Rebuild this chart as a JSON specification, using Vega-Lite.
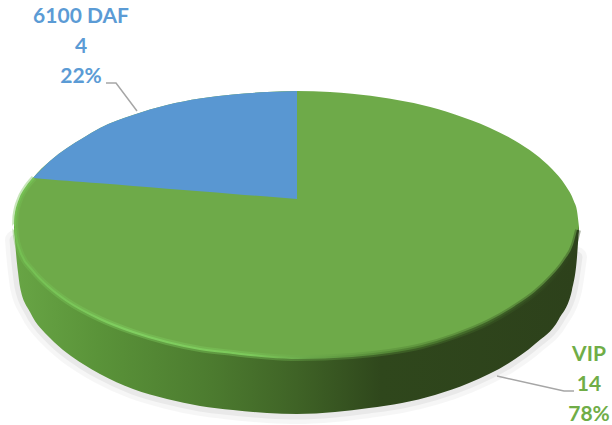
{
"$schema":"https://vega.github.io/schema/vega-lite/v6.json",
"width":612,"height":425,"padding":0,
"autosize":{"type":"none"},
"background":"#ffffff",
"view":{"stroke":null},
"datasets":{
"face":[
{"x":14,"top":227,"bottom":227},{"x":15,"top":216,"bottom":236},{"x":17,"top":207,"bottom":244},{"x":20,"top":199,"bottom":251},{"x":25,"top":189.5,"bottom":260},{"x":33,"top":178,"bottom":271},{"x":50,"top":161,"bottom":288},{"x":67,"top":148,"bottom":301},{"x":83,"top":138,"bottom":311},{"x":100,"top":128,"bottom":319},{"x":133,"top":115,"bottom":332},{"x":167,"top":105,"bottom":342},{"x":200,"top":98.5,"bottom":349},{"x":233,"top":94.5,"bottom":353},{"x":267,"top":92,"bottom":356.5},{"x":297,"top":91,"bottom":358},{"x":330,"top":92,"bottom":357.5},{"x":352,"top":93.7,"bottom":356},{"x":389,"top":98.5,"bottom":352},{"x":422,"top":105,"bottom":346},{"x":455,"top":114.4,"bottom":336},{"x":489,"top":127.4,"bottom":322},{"x":515,"top":140.7,"bottom":307},{"x":535,"top":154,"bottom":293},{"x":552,"top":169,"bottom":277},{"x":565,"top":184.7,"bottom":261},{"x":574,"top":201.6,"bottom":245},{"x":577,"top":211,"bottom":236},{"x":579,"top":227,"bottom":227}
],
"dafSlice":[
{"x":33,"top":178,"bottom":178},{"x":50,"top":161,"bottom":179.4},{"x":67,"top":148,"bottom":180.7},{"x":83,"top":138,"bottom":182},{"x":100,"top":128,"bottom":183.3},{"x":133,"top":115,"bottom":186},{"x":167,"top":105,"bottom":188.7},{"x":200,"top":98.5,"bottom":191.3},{"x":233,"top":94.5,"bottom":193.9},{"x":267,"top":92,"bottom":196.6},{"x":297,"top":91,"bottom":199}
],
"wall":[
{"x":14,"top":227,"bottom":227},{"x":15,"top":227,"bottom":240},{"x":16,"top":227,"bottom":253},{"x":18,"top":227,"bottom":272},{"x":20,"top":227,"bottom":287},{"x":30,"top":227,"bottom":312},{"x":50,"top":227,"bottom":338},{"x":67,"top":227,"bottom":353},{"x":83,"top":227,"bottom":364},{"x":100,"top":227,"bottom":374},{"x":133,"top":227,"bottom":389},{"x":167,"top":227,"bottom":399},{"x":200,"top":227,"bottom":406},{"x":233,"top":227,"bottom":410},{"x":267,"top":227,"bottom":413},{"x":297,"top":227,"bottom":414},{"x":335,"top":227,"bottom":412},{"x":369,"top":227,"bottom":408},{"x":402,"top":227,"bottom":403},{"x":435,"top":227,"bottom":395},{"x":469,"top":227,"bottom":383},{"x":509,"top":227,"bottom":363},{"x":535,"top":227,"bottom":344},{"x":559,"top":227,"bottom":319},{"x":572,"top":227,"bottom":290},{"x":577,"top":227,"bottom":257},{"x":579,"top":227,"bottom":227}
],
"rim":[
{"step":1,"x":34,"y":178},{"step":2,"x":25,"y":189.5},{"step":3,"x":20,"y":199},{"step":4,"x":15.5,"y":216},{"step":5,"x":15,"y":227},{"step":6,"x":16,"y":236},{"step":7,"x":20,"y":251},{"step":8,"x":33,"y":271},{"step":9,"x":50,"y":288},{"step":10,"x":67,"y":301},{"step":11,"x":100,"y":319},{"step":12,"x":133,"y":332},{"step":13,"x":167,"y":342},{"step":14,"x":200,"y":349},{"step":15,"x":233,"y":353},{"step":16,"x":267,"y":356.5},{"step":17,"x":297,"y":358},{"step":18,"x":352,"y":356},{"step":19,"x":389,"y":352},{"step":20,"x":422,"y":346},{"step":21,"x":455,"y":336},{"step":22,"x":489,"y":322},{"step":23,"x":515,"y":307},{"step":24,"x":535,"y":293},{"step":25,"x":552,"y":277},{"step":26,"x":565,"y":261},{"step":27,"x":574,"y":245},{"step":28,"x":578,"y":230}
],
"leaders":[
{"slice":"6100 DAF","step":1,"x":106,"y":83},{"slice":"6100 DAF","step":2,"x":116,"y":83},{"slice":"6100 DAF","step":3,"x":137,"y":111},
{"slice":"VIP","step":1,"x":574,"y":391},{"slice":"VIP","step":2,"x":564,"y":391},{"slice":"VIP","step":3,"x":497,"y":376}
],
"slices":[
{"slice":"6100 DAF","count":4,"percent":22,"labelX":81,"labelY":17},
{"slice":"VIP","count":14,"percent":78,"labelX":589,"labelY":355}
]
},
"layer":[
{"data":{"name":"wall"},
 "transform":[{"filter":"datum.x >= 15 && datum.x <= 577"}],
 "mark":{"type":"line","interpolate":"monotone","stroke":"#000000","strokeOpacity":0.035,"strokeWidth":20,"strokeCap":"round"},
 "encoding":{"x":{"field":"x","type":"quantitative","axis":null,"scale":{"domain":[0,612],"nice":false,"zero":false}},"y":{"field":"bottom","type":"quantitative","axis":null,"scale":{"domain":[425,0],"nice":false,"zero":false}}}},
{"data":{"name":"wall"},
 "transform":[{"filter":"datum.x >= 15 && datum.x <= 577"}],
 "mark":{"type":"line","interpolate":"monotone","stroke":"#000000","strokeOpacity":0.05,"strokeWidth":11,"strokeCap":"round"},
 "encoding":{"x":{"field":"x","type":"quantitative","axis":null,"scale":{"domain":[0,612],"nice":false,"zero":false}},"y":{"field":"bottom","type":"quantitative","axis":null,"scale":{"domain":[425,0],"nice":false,"zero":false}}}},
{"data":{"name":"wall"},
 "mark":{"type":"area","interpolate":"monotone",
  "fill":{"gradient":"linear","x1":0,"y1":0,"x2":1,"y2":0,"stops":[
   {"offset":0,"color":"#68a545"},{"offset":0.15,"color":"#5a9339"},{"offset":0.35,"color":"#4c7b2f"},{"offset":0.5,"color":"#3f6326"},{"offset":0.65,"color":"#2f471c"},{"offset":1,"color":"#2d411b"}]}},
 "encoding":{"x":{"field":"x","type":"quantitative","axis":null,"scale":{"domain":[0,612],"nice":false,"zero":false}},"y":{"field":"top","type":"quantitative","axis":null,"scale":{"domain":[425,0],"nice":false,"zero":false}},"y2":{"field":"bottom"}}},
{"data":{"name":"face"},
 "mark":{"type":"area","interpolate":"monotone","fill":"#6eaa49"},
 "encoding":{"x":{"field":"x","type":"quantitative","axis":null,"scale":{"domain":[0,612],"nice":false,"zero":false}},"y":{"field":"top","type":"quantitative","axis":null,"scale":{"domain":[425,0],"nice":false,"zero":false}},"y2":{"field":"bottom"}}},
{"data":{"name":"dafSlice"},
 "mark":{"type":"area","interpolate":"monotone","fill":"#5997d2"},
 "encoding":{"x":{"field":"x","type":"quantitative","axis":null,"scale":{"domain":[0,612],"nice":false,"zero":false}},"y":{"field":"top","type":"quantitative","axis":null,"scale":{"domain":[425,0],"nice":false,"zero":false}},"y2":{"field":"bottom"}}},
{"data":{"name":"rim"},
 "mark":{"type":"line","interpolate":"monotone","strokeWidth":6,"strokeOpacity":0.4,
  "stroke":{"gradient":"linear","x1":0,"y1":0,"x2":1,"y2":0,"stops":[
   {"offset":0,"color":"#74bf52"},{"offset":0.2,"color":"#80cf60"},{"offset":0.42,"color":"#7cc95b"},{"offset":0.52,"color":"#6aa84a"},{"offset":0.72,"color":"#4c7b2f"},{"offset":1,"color":"#2d421c"}]}},
 "encoding":{"x":{"field":"x","type":"quantitative","axis":null,"scale":{"domain":[0,612],"nice":false,"zero":false}},"y":{"field":"y","type":"quantitative","axis":null,"scale":{"domain":[425,0],"nice":false,"zero":false}},"order":{"field":"step"}}},
{"data":{"name":"rim"},
 "mark":{"type":"line","interpolate":"monotone","strokeWidth":2,
  "stroke":{"gradient":"linear","x1":0,"y1":0,"x2":1,"y2":0,"stops":[
   {"offset":0,"color":"#74bf52"},{"offset":0.2,"color":"#80cf60"},{"offset":0.42,"color":"#7cc95b"},{"offset":0.52,"color":"#6aa84a"},{"offset":0.72,"color":"#4c7b2f"},{"offset":1,"color":"#2d421c"}]}},
 "encoding":{"x":{"field":"x","type":"quantitative","axis":null,"scale":{"domain":[0,612],"nice":false,"zero":false}},"y":{"field":"y","type":"quantitative","axis":null,"scale":{"domain":[425,0],"nice":false,"zero":false}},"order":{"field":"step"}}},
{"data":{"name":"leaders"},
 "mark":{"type":"line","stroke":"#a6a6a6","strokeWidth":1.5},
 "encoding":{"x":{"field":"x","type":"quantitative","axis":null,"scale":{"domain":[0,612],"nice":false,"zero":false}},"y":{"field":"y","type":"quantitative","axis":null,"scale":{"domain":[425,0],"nice":false,"zero":false}},"detail":{"field":"slice"},"order":{"field":"step"}}},
{"data":{"name":"slices"},
 "transform":[{"calculate":"datum.slice + '\\n' + datum.count + '\\n' + datum.percent + '%'","as":"label"}],
 "mark":{"type":"text","font":"Lato","fontWeight":"bold","fontSize":21,"lineHeight":30,"lineBreak":"\n","align":"center","baseline":"middle"},
 "encoding":{"x":{"field":"labelX","type":"quantitative","axis":null,"scale":{"domain":[0,612],"nice":false,"zero":false}},"y":{"field":"labelY","type":"quantitative","axis":null,"scale":{"domain":[425,0],"nice":false,"zero":false}},"text":{"field":"label","type":"nominal"},
  "color":{"field":"slice","type":"nominal","legend":null,"scale":{"domain":["6100 DAF","VIP"],"range":["#5b9bd5","#70ad47"]}}}}
]
}
